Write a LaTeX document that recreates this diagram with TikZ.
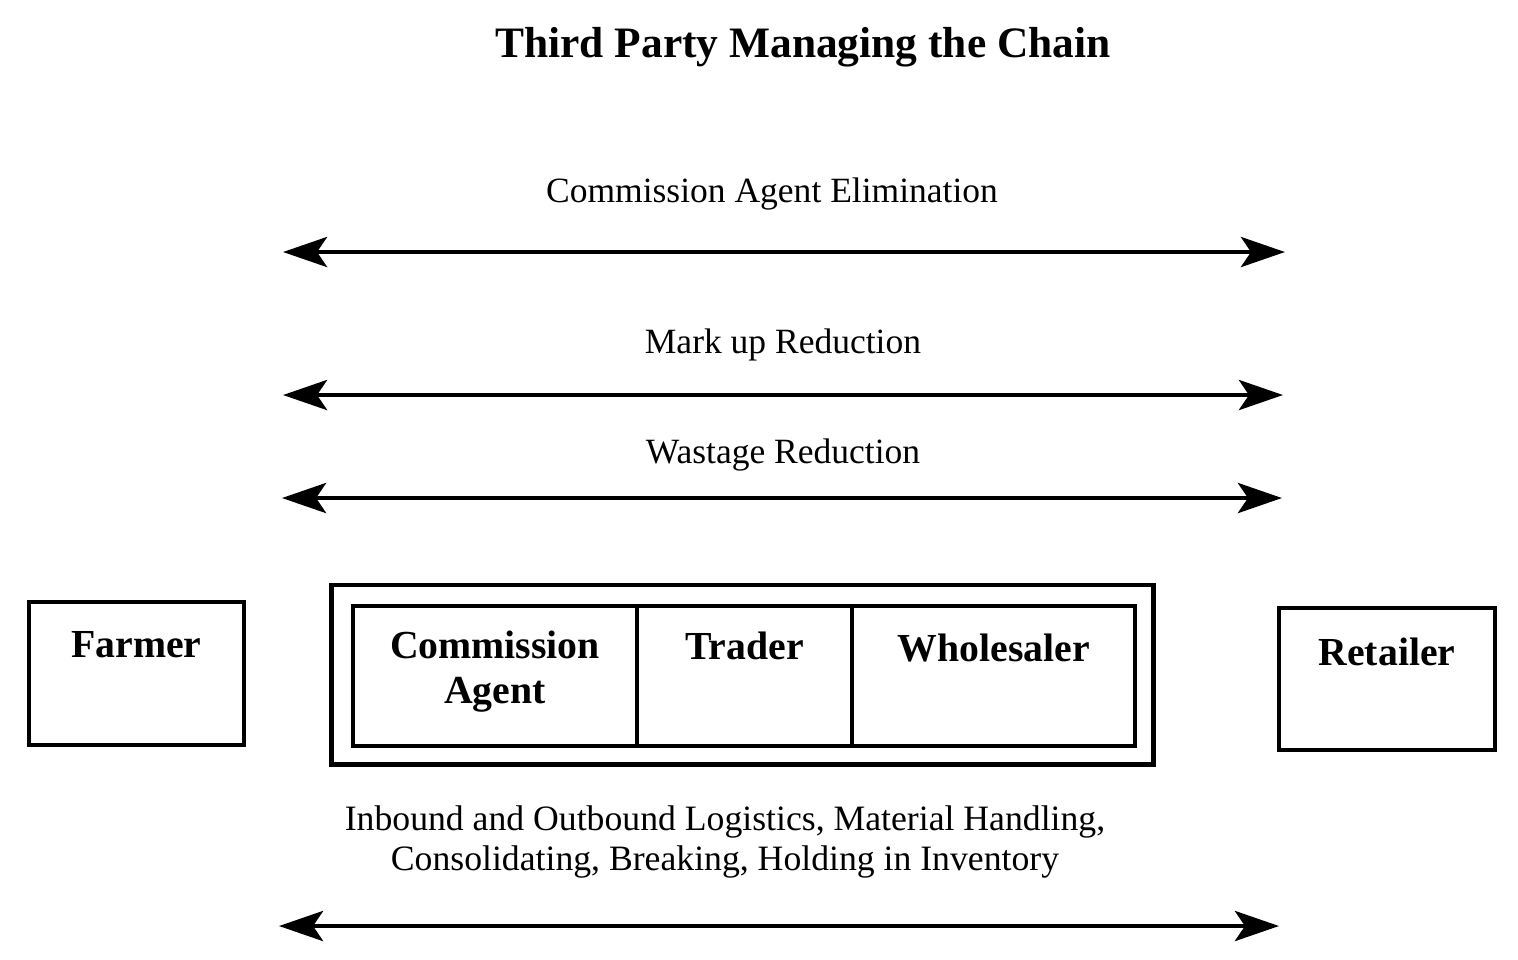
\documentclass[tikz,border=0pt]{standalone}
\usepackage{fontspec}
\setmainfont{Liberation Serif}
\usetikzlibrary{arrows.meta,positioning}

\tikzset{
  stage/.style={draw, line width=1.1pt, minimum height=1.40cm, inner sep=0pt, outer sep=0pt},
  stagetext/.style={anchor=north, inner sep=0pt, align=center, font=\fontsize{11.3}{12.8}\selectfont\bfseries},
  twoway/.style={{Stealth[length=4.4mm,width=3mm,inset=1mm]}-{Stealth[length=4.4mm,width=3mm,inset=1mm]}, line width=1.4pt},
  gain/.style={inner sep=0pt, font=\fontsize{10.1}{12}\selectfont},
}

\begin{document}
\begin{tikzpicture}[x=0.01cm, y=-0.01cm]
  \useasboundingbox (0,0) rectangle (1518,959);
  % title
  \node[inner sep=0pt, font=\fontsize{12.35}{15}\selectfont\bfseries] (title) at (803,47) {Third Party Managing the Chain};
  % benefits with arrows
  \foreach \lab/\tx/\ty/\ay/\xa/\xb [count=\n] in {
    {Commission Agent Elimination}/772/194/252/283/1285,
    {Mark up Reduction}/783/345/395/283/1283,
    {Wastage Reduction}/783/455/498/282/1282}{
    \node[gain] (gain\n) at (\tx,\ty) {\lab};
    \coordinate (gl\n) at (\xa,\ay);
    \coordinate (gr\n) at (\xb,\ay);
    \draw[twoway] (gl\n) -- (gr\n);
  }
  % chain boxes
  \node[stage, minimum width=2.15cm, minimum height=1.43cm] (farmer) at (136.5,673.5) {};
  \node[stage, line width=1.4pt, minimum width=8.21cm, minimum height=1.79cm] (chain) at (742.5,674.5) {};
  \node[stage, minimum width=2.84cm] (agent) at (495,676) {};
  \node[stage, minimum width=2.15cm, right=0pt of agent] (trader) {};
  \node[stage, minimum width=2.83cm, right=0pt of trader] (wholesaler) {};
  \node[stage, minimum width=2.16cm, minimum height=1.42cm] (retailer) at (1387,679) {};
  \node[stagetext] (farmertext) at ([yshift=-2.9mm]farmer.north) {Farmer};
  \node[stagetext] (agenttext) at ([yshift=-2.4mm]agent.north) {Commission\\Agent};
  \node[stagetext] (tradertext) at ([yshift=-2.5mm]trader.north) {Trader};
  \node[stagetext] (wholesalertext) at ([yshift=-2.7mm]wholesaler.north) {Wholesaler};
  \node[stagetext] (retailertext) at ([yshift=-2.9mm]retailer.north) {Retailer};
  % logistics
  \node[gain, align=center, font=\fontsize{10.15}{11.5}\selectfont] (logistics) at (725,842)
    {Inbound and Outbound Logistics, Material Handling,\\Consolidating, Breaking, Holding in Inventory};
  \coordinate (ll) at (279,926);
  \coordinate (lr) at (1279,926);
  \draw[twoway] (ll) -- (lr);
\end{tikzpicture}
\end{document}
